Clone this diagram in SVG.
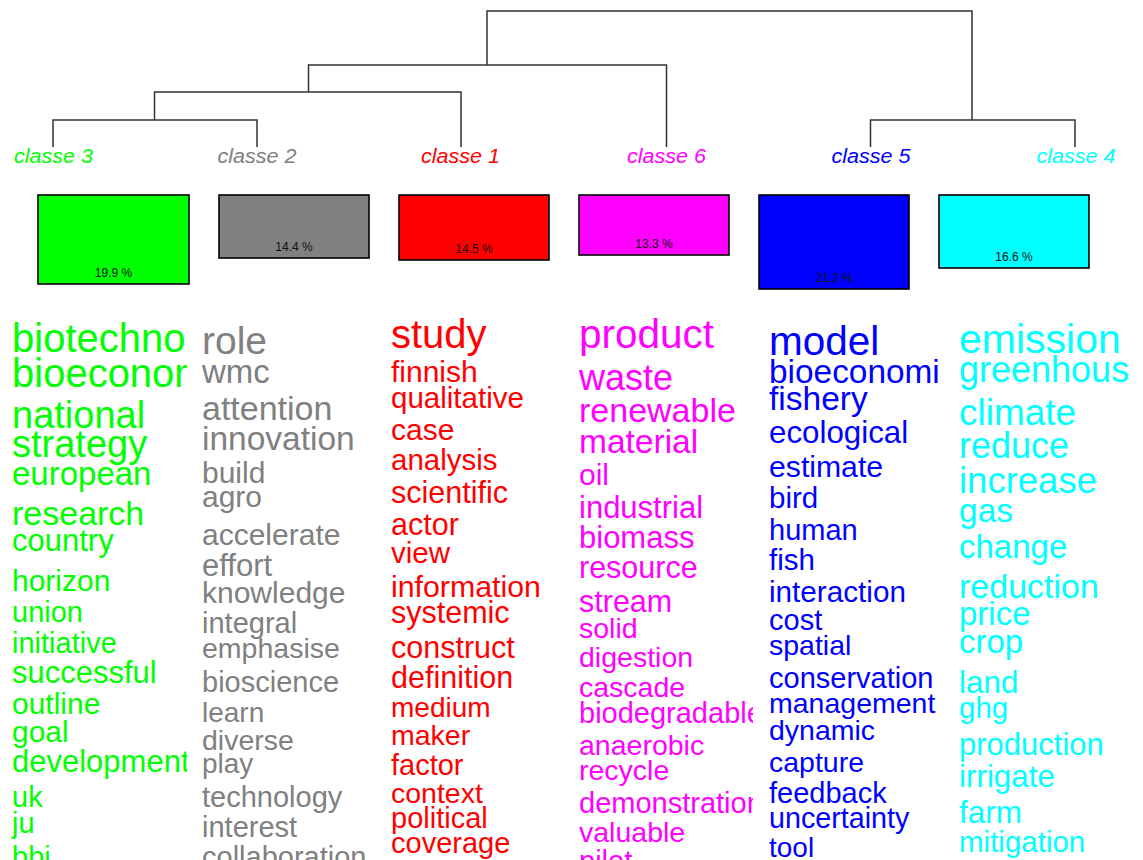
<svg xmlns="http://www.w3.org/2000/svg" width="1143" height="860" viewBox="0 0 1143 860">
<style>
.lbl{font-family:"Liberation Sans",Arial,sans-serif;font-style:italic;font-size:19.5px;text-anchor:middle;}
.box{stroke:#000;stroke-width:1.6;}
.pct{font-family:"Liberation Sans",Arial,sans-serif;font-size:12px;text-anchor:middle;fill:#111;}
.w{font-family:"Liberation Sans",Arial,sans-serif;}
.edge{fill:none;stroke:#333;stroke-width:1.5;}
</style>
<defs>
<clipPath id="c1"><rect x="0" y="300" width="187" height="560"/></clipPath>
<clipPath id="c2"><rect x="195" y="300" width="173" height="560"/></clipPath>
<clipPath id="c3"><rect x="385" y="300" width="163" height="560"/></clipPath>
<clipPath id="c4"><rect x="572" y="300" width="181" height="560"/></clipPath>
<clipPath id="c5"><rect x="762" y="300" width="178" height="560"/></clipPath>
<clipPath id="c6"><rect x="952" y="300" width="178" height="560"/></clipPath>
</defs>
<rect width="1143" height="860" fill="#fff"/>
<g id="connectors">
<path class="edge" d="M487,65 V11 H972 V120"/>
<path class="edge" d="M308.5,92 V65 H666.5 V147"/>
<path class="edge" d="M154.5,120 V92 H461 V147"/>
<path class="edge" d="M53,147 V120 H257 V147"/>
<path class="edge" d="M870.5,147 V120 H1075 V147"/>
</g>
<g id="classe3" fill="#00ff00">
<text class="lbl" x="53.5" y="162.5" textLength="79" lengthAdjust="spacingAndGlyphs">classe  3</text>
<rect class="box" x="38" y="195" width="151" height="89" fill="#00ff00"/>
<text class="pct" x="113.5" y="276.5">19.9 %</text>
<g class="w" clip-path="url(#c1)">
<text x="12" y="352" font-size="40">biotechnology</text>
<text x="12" y="387" font-size="40">bioeconomy</text>
<text x="12" y="428" font-size="38">national</text>
<text x="12" y="457" font-size="38">strategy</text>
<text x="12" y="485" font-size="33">european</text>
<text x="12" y="525" font-size="34">research</text>
<text x="12" y="551" font-size="31">country</text>
<text x="12" y="591" font-size="30">horizon</text>
<text x="12" y="622" font-size="29">union</text>
<text x="12" y="653" font-size="29">initiative</text>
<text x="12" y="683" font-size="31">successful</text>
<text x="12" y="714" font-size="30">outline</text>
<text x="12" y="742" font-size="30">goal</text>
<text x="12" y="772" font-size="31">development</text>
<text x="12" y="807" font-size="29">uk</text>
<text x="12" y="833" font-size="29">ju</text>
<text x="12" y="867" font-size="29">bbi</text>
</g>
</g>
<g id="classe2" fill="#808080">
<text class="lbl" x="257" y="162.5" textLength="79" lengthAdjust="spacingAndGlyphs">classe  2</text>
<rect class="box" x="219" y="195" width="150" height="63" fill="#808080"/>
<text class="pct" x="294" y="250.5">14.4 %</text>
<g class="w" clip-path="url(#c2)">
<text x="202" y="354" font-size="39">role</text>
<text x="202" y="383" font-size="33">wmc</text>
<text x="202" y="420" font-size="34">attention</text>
<text x="202" y="450" font-size="33.5">innovation</text>
<text x="202" y="483" font-size="30">build</text>
<text x="202" y="507" font-size="30">agro</text>
<text x="202" y="545" font-size="30">accelerate</text>
<text x="202" y="576" font-size="31">effort</text>
<text x="202" y="603" font-size="30">knowledge</text>
<text x="202" y="633" font-size="29">integral</text>
<text x="202" y="658" font-size="28.5">emphasise</text>
<text x="202" y="692" font-size="29">bioscience</text>
<text x="202" y="722" font-size="28">learn</text>
<text x="202" y="750" font-size="28.5">diverse</text>
<text x="202" y="773" font-size="28">play</text>
<text x="202" y="807" font-size="29">technology</text>
<text x="202" y="837" font-size="29">interest</text>
<text x="202" y="867" font-size="29">collaboration</text>
</g>
</g>
<g id="classe1" fill="#ff0000">
<text class="lbl" x="460.5" y="162.5" textLength="79" lengthAdjust="spacingAndGlyphs">classe  1</text>
<rect class="box" x="399" y="195" width="150" height="65" fill="#ff0000"/>
<text class="pct" x="474" y="252.5">14.5 %</text>
<g class="w" clip-path="url(#c3)">
<text x="391" y="348" font-size="40">study</text>
<text x="391" y="382" font-size="30">finnish</text>
<text x="391" y="408" font-size="29.5">qualitative</text>
<text x="391" y="440" font-size="30">case</text>
<text x="391" y="470" font-size="29.5">analysis</text>
<text x="391" y="503" font-size="30.5">scientific</text>
<text x="391" y="535" font-size="30.5">actor</text>
<text x="391" y="563" font-size="29.5">view</text>
<text x="391" y="597" font-size="30.3">information</text>
<text x="391" y="623" font-size="30.5">systemic</text>
<text x="391" y="658" font-size="30.5">construct</text>
<text x="391" y="688" font-size="30.5">definition</text>
<text x="391" y="717" font-size="28">medium</text>
<text x="391" y="745" font-size="28.5">maker</text>
<text x="391" y="775" font-size="29">factor</text>
<text x="391" y="803" font-size="28.5">context</text>
<text x="391" y="828" font-size="29">political</text>
<text x="391" y="853" font-size="29">coverage</text>
</g>
</g>
<g id="classe6" fill="#ff00ff">
<text class="lbl" x="666.5" y="162.5" textLength="79" lengthAdjust="spacingAndGlyphs">classe  6</text>
<rect class="box" x="579" y="195" width="150" height="60" fill="#ff00ff"/>
<text class="pct" x="654" y="247.5">13.3 %</text>
<g class="w" clip-path="url(#c4)">
<text x="579" y="348" font-size="40.5">product</text>
<text x="579" y="390" font-size="36">waste</text>
<text x="579" y="422" font-size="34">renewable</text>
<text x="579" y="453" font-size="33.5">material</text>
<text x="579" y="485" font-size="30">oil</text>
<text x="579" y="518" font-size="31">industrial</text>
<text x="579" y="548" font-size="31">biomass</text>
<text x="579" y="578" font-size="30.5">resource</text>
<text x="579" y="612" font-size="30.5">stream</text>
<text x="579" y="638" font-size="28.5">solid</text>
<text x="579" y="667" font-size="28.5">digestion</text>
<text x="579" y="697" font-size="28.5">cascade</text>
<text x="579" y="723" font-size="29">biodegradable</text>
<text x="579" y="755" font-size="28.5">anaerobic</text>
<text x="579" y="780" font-size="28.5">recycle</text>
<text x="579" y="813" font-size="29">demonstration</text>
<text x="579" y="842" font-size="28.5">valuable</text>
<text x="579" y="871" font-size="29">pilot</text>
</g>
</g>
<g id="classe5" fill="#0000ff">
<text class="lbl" x="871" y="162.5" textLength="79" lengthAdjust="spacingAndGlyphs">classe  5</text>
<rect class="box" x="759" y="195" width="150" height="94" fill="#0000ff"/>
<text class="pct" x="834" y="281.5">21.2 %</text>
<g class="w" clip-path="url(#c5)">
<text x="769" y="355" font-size="40.5">model</text>
<text x="769" y="383" font-size="33.4">bioeconomi</text>
<text x="769" y="410" font-size="33.5">fishery</text>
<text x="769" y="443" font-size="31.3">ecological</text>
<text x="769" y="477" font-size="30.2">estimate</text>
<text x="769" y="508" font-size="29.5">bird</text>
<text x="769" y="540" font-size="29">human</text>
<text x="769" y="570" font-size="29.5">fish</text>
<text x="769" y="602" font-size="29.7">interaction</text>
<text x="769" y="630" font-size="29">cost</text>
<text x="769" y="655" font-size="28.5">spatial</text>
<text x="769" y="688" font-size="29">conservation</text>
<text x="769" y="713" font-size="28.5">management</text>
<text x="769" y="740" font-size="28.5">dynamic</text>
<text x="769" y="772" font-size="28.5">capture</text>
<text x="769" y="803" font-size="29">feedback</text>
<text x="769" y="828" font-size="28.7">uncertainty</text>
<text x="769" y="857" font-size="28">tool</text>
</g>
</g>
<g id="classe4" fill="#00ffff">
<text class="lbl" x="1076" y="162.5" textLength="79" lengthAdjust="spacingAndGlyphs">classe  4</text>
<rect class="box" x="939" y="195" width="150" height="73" fill="#00ffff"/>
<text class="pct" x="1014" y="260.5">16.6 %</text>
<g class="w" clip-path="url(#c6)">
<text x="959" y="353" font-size="41">emission</text>
<text x="959" y="382" font-size="36">greenhouse</text>
<text x="959" y="425" font-size="37">climate</text>
<text x="959" y="458" font-size="36">reduce</text>
<text x="959" y="493" font-size="36.5">increase</text>
<text x="959" y="522" font-size="33.5">gas</text>
<text x="959" y="558" font-size="33">change</text>
<text x="959" y="598" font-size="34">reduction</text>
<text x="959" y="625" font-size="33">price</text>
<text x="959" y="653" font-size="33">crop</text>
<text x="959" y="693" font-size="31.4">land</text>
<text x="959" y="718" font-size="29.5">ghg</text>
<text x="959" y="755" font-size="31">production</text>
<text x="959" y="787" font-size="31.4">irrigate</text>
<text x="959" y="823" font-size="31.5">farm</text>
<text x="959" y="852" font-size="29.5">mitigation</text>
</g>
</g>
</svg>
